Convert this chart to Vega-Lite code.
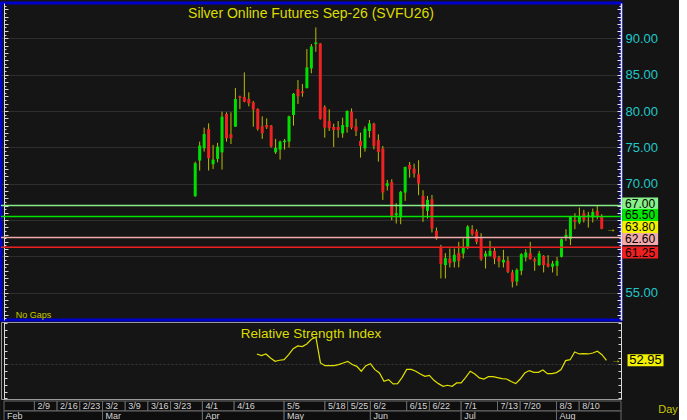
{
  "$schema": "https://vega.github.io/schema/vega-lite/v6.json",
  "background": "#141414",
  "padding": {"left": -2, "top": 1, "right": 0, "bottom": 0},
  "config": {
    "font": "Liberation Sans",
    "title": {"font": "Liberation Sans", "fontWeight": "normal", "color": "#dcdc00", "fontSize": 14, "anchor": "middle", "frame": "group"}
  },
  "bounds": "flush",
  "spacing": 2,
  "datasets": {
    "candles": [
      {"i": 1, "o": 68.28, "h": 73.04, "l": 68.2, "c": 72.81},
      {"i": 2, "o": 73.18, "h": 75.79, "l": 71.81, "c": 75.24},
      {"i": 3, "o": 74.87, "h": 77.71, "l": 74.42, "c": 76.84},
      {"i": 4, "o": 77.53, "h": 78.31, "l": 71.81, "c": 73.5},
      {"i": 5, "o": 72.68, "h": 75.33, "l": 72.03, "c": 73.32},
      {"i": 6, "o": 73.41, "h": 75.61, "l": 72.95, "c": 75.1},
      {"i": 7, "o": 74.32, "h": 79.91, "l": 71.94, "c": 79.22},
      {"i": 8, "o": 79.59, "h": 79.82, "l": 75.79, "c": 76.25},
      {"i": 9, "o": 76.8, "h": 79.82, "l": 75.47, "c": 76.25},
      {"i": 10, "o": 77.85, "h": 83.16, "l": 77.8, "c": 81.65},
      {"i": 11, "o": 82.02, "h": 82.11, "l": 80.27, "c": 81.83},
      {"i": 12, "o": 81.93, "h": 85.31, "l": 81.2, "c": 81.28},
      {"i": 13, "o": 81.65, "h": 82.57, "l": 80.64, "c": 81.06},
      {"i": 14, "o": 81.19, "h": 81.38, "l": 77.85, "c": 80.19},
      {"i": 15, "o": 80.28, "h": 80.37, "l": 77.3, "c": 77.53},
      {"i": 16, "o": 77.9, "h": 79.27, "l": 76.16, "c": 76.93},
      {"i": 17, "o": 78.08, "h": 78.99, "l": 77.53, "c": 77.76},
      {"i": 18, "o": 77.99, "h": 78.08, "l": 74.97, "c": 75.15},
      {"i": 19, "o": 74.32, "h": 76.16, "l": 74.09, "c": 74.92},
      {"i": 20, "o": 74.69, "h": 75.93, "l": 73.32, "c": 75.79},
      {"i": 21, "o": 75.7, "h": 76.16, "l": 74.69, "c": 75.93},
      {"i": 22, "o": 75.79, "h": 79.36, "l": 74.97, "c": 79.27},
      {"i": 23, "o": 79.45, "h": 82.47, "l": 77.99, "c": 82.38},
      {"i": 24, "o": 83.02, "h": 84.26, "l": 80.97, "c": 82.02},
      {"i": 25, "o": 82.7, "h": 83.71, "l": 81.97, "c": 82.47},
      {"i": 26, "o": 83.16, "h": 88.52, "l": 83.1, "c": 86.0},
      {"i": 27, "o": 85.86, "h": 89.21, "l": 85.18, "c": 88.89},
      {"i": 28, "o": 89.21, "h": 91.5, "l": 88.15, "c": 89.43},
      {"i": 29, "o": 89.3, "h": 89.34, "l": 78.81, "c": 78.9},
      {"i": 30, "o": 80.55, "h": 80.78, "l": 76.33, "c": 77.71},
      {"i": 31, "o": 78.62, "h": 80.23, "l": 77.25, "c": 77.62},
      {"i": 32, "o": 77.8, "h": 78.26, "l": 75.05, "c": 77.39},
      {"i": 33, "o": 77.8, "h": 78.62, "l": 76.33, "c": 77.39},
      {"i": 34, "o": 76.93, "h": 79.08, "l": 76.33, "c": 78.07},
      {"i": 35, "o": 77.8, "h": 80.09, "l": 77.02, "c": 80.0},
      {"i": 36, "o": 79.91, "h": 80.36, "l": 77.48, "c": 77.71},
      {"i": 37, "o": 77.89, "h": 78.94, "l": 76.56, "c": 77.25},
      {"i": 38, "o": 75.88, "h": 77.02, "l": 73.59, "c": 75.19},
      {"i": 39, "o": 74.87, "h": 77.89, "l": 74.41, "c": 77.57},
      {"i": 40, "o": 77.25, "h": 78.76, "l": 76.33, "c": 78.3},
      {"i": 41, "o": 78.26, "h": 78.39, "l": 74.73, "c": 75.19},
      {"i": 42, "o": 76.02, "h": 76.79, "l": 73.04, "c": 74.37},
      {"i": 43, "o": 74.83, "h": 75.19, "l": 67.77, "c": 68.78},
      {"i": 44, "o": 69.7, "h": 70.52, "l": 69.06, "c": 70.06},
      {"i": 45, "o": 70.25, "h": 70.61, "l": 64.98, "c": 65.58},
      {"i": 46, "o": 65.67, "h": 67.32, "l": 64.52, "c": 65.94},
      {"i": 47, "o": 65.35, "h": 69.01, "l": 64.43, "c": 68.87},
      {"i": 48, "o": 68.78, "h": 72.35, "l": 67.64, "c": 72.31},
      {"i": 49, "o": 72.58, "h": 72.99, "l": 70.84, "c": 71.99},
      {"i": 50, "o": 72.08, "h": 72.76, "l": 70.84, "c": 71.39},
      {"i": 51, "o": 71.3, "h": 73.22, "l": 68.41, "c": 70.02},
      {"i": 52, "o": 68.32, "h": 69.1, "l": 64.75, "c": 66.58},
      {"i": 53, "o": 66.26, "h": 68.32, "l": 65.21, "c": 67.77},
      {"i": 54, "o": 67.86, "h": 68.46, "l": 63.29, "c": 63.84},
      {"i": 55, "o": 63.51, "h": 63.97, "l": 62.28, "c": 62.46},
      {"i": 56, "o": 61.23, "h": 61.59, "l": 56.97, "c": 58.94},
      {"i": 57, "o": 58.8, "h": 60.45, "l": 56.97, "c": 59.76},
      {"i": 58, "o": 59.71, "h": 61.09, "l": 58.48, "c": 59.07},
      {"i": 59, "o": 59.26, "h": 61.09, "l": 58.48, "c": 60.22},
      {"i": 60, "o": 60.45, "h": 62.0, "l": 58.48, "c": 59.39},
      {"i": 61, "o": 60.4, "h": 62.46, "l": 59.71, "c": 61.23},
      {"i": 62, "o": 61.22, "h": 64.29, "l": 60.99, "c": 64.11},
      {"i": 63, "o": 63.74, "h": 64.29, "l": 62.83, "c": 63.05},
      {"i": 64, "o": 63.42, "h": 63.74, "l": 61.68, "c": 62.0},
      {"i": 65, "o": 62.6, "h": 63.19, "l": 59.39, "c": 59.62},
      {"i": 66, "o": 59.99, "h": 60.76, "l": 58.34, "c": 60.4},
      {"i": 67, "o": 60.08, "h": 62.14, "l": 59.99, "c": 60.76},
      {"i": 68, "o": 60.76, "h": 61.22, "l": 58.93, "c": 59.71},
      {"i": 69, "o": 59.85, "h": 60.08, "l": 58.48, "c": 59.3},
      {"i": 70, "o": 59.16, "h": 60.9, "l": 58.48, "c": 59.53},
      {"i": 71, "o": 59.39, "h": 59.99, "l": 57.7, "c": 57.88},
      {"i": 72, "o": 57.79, "h": 58.15, "l": 55.73, "c": 56.51},
      {"i": 73, "o": 56.55, "h": 58.34, "l": 55.96, "c": 58.15},
      {"i": 74, "o": 58.02, "h": 60.44, "l": 57.42, "c": 60.31},
      {"i": 75, "o": 59.85, "h": 60.99, "l": 59.3, "c": 60.54},
      {"i": 76, "o": 60.44, "h": 62.0, "l": 59.55, "c": 59.62},
      {"i": 77, "o": 59.62, "h": 59.85, "l": 58.02, "c": 59.3},
      {"i": 78, "o": 58.8, "h": 60.76, "l": 58.7, "c": 60.4},
      {"i": 79, "o": 60.08, "h": 60.17, "l": 57.79, "c": 58.8},
      {"i": 80, "o": 59.02, "h": 60.17, "l": 58.48, "c": 58.61},
      {"i": 81, "o": 58.57, "h": 59.39, "l": 57.79, "c": 59.02},
      {"i": 82, "o": 58.7, "h": 59.94, "l": 57.33, "c": 59.39},
      {"i": 83, "o": 59.94, "h": 62.46, "l": 59.85, "c": 62.37},
      {"i": 84, "o": 62.6, "h": 63.74, "l": 62.14, "c": 62.96},
      {"i": 85, "o": 62.37, "h": 65.57, "l": 61.54, "c": 65.48},
      {"i": 86, "o": 65.02, "h": 65.94, "l": 63.74, "c": 64.75},
      {"i": 87, "o": 64.66, "h": 66.72, "l": 64.43, "c": 65.48},
      {"i": 88, "o": 65.94, "h": 66.4, "l": 64.66, "c": 65.02},
      {"i": 89, "o": 65.48, "h": 66.12, "l": 63.97, "c": 65.66},
      {"i": 90, "o": 65.34, "h": 66.58, "l": 64.66, "c": 66.12},
      {"i": 91, "o": 66.26, "h": 66.95, "l": 65.11, "c": 65.57},
      {"i": 92, "o": 65.48, "h": 65.8, "l": 63.74, "c": 63.8}
    ],
    "rsi": [
      {"i": 15, "v": 57.6}, {"i": 16, "v": 56.4}, {"i": 17, "v": 57.6}, {"i": 18, "v": 54.7},
      {"i": 19, "v": 52.2}, {"i": 20, "v": 53.0}, {"i": 21, "v": 53.4}, {"i": 22, "v": 57.1},
      {"i": 23, "v": 61.5}, {"i": 24, "v": 63.5}, {"i": 25, "v": 63.0}, {"i": 26, "v": 65.0},
      {"i": 27, "v": 68.4}, {"i": 28, "v": 69.9}, {"i": 29, "v": 51.0}, {"i": 30, "v": 49.0},
      {"i": 31, "v": 49.0}, {"i": 32, "v": 49.0}, {"i": 33, "v": 49.8}, {"i": 34, "v": 51.0},
      {"i": 35, "v": 52.2}, {"i": 36, "v": 49.8}, {"i": 37, "v": 48.5}, {"i": 38, "v": 44.9},
      {"i": 39, "v": 49.0}, {"i": 40, "v": 50.5}, {"i": 41, "v": 46.1}, {"i": 42, "v": 43.6},
      {"i": 43, "v": 37.5}, {"i": 44, "v": 38.7}, {"i": 45, "v": 35.6}, {"i": 46, "v": 35.8},
      {"i": 47, "v": 40.4}, {"i": 48, "v": 46.3}, {"i": 49, "v": 46.3}, {"i": 50, "v": 44.9},
      {"i": 51, "v": 42.9}, {"i": 52, "v": 41.2}, {"i": 53, "v": 41.9}, {"i": 54, "v": 38.2},
      {"i": 55, "v": 35.8}, {"i": 56, "v": 33.8}, {"i": 57, "v": 34.6}, {"i": 58, "v": 33.8},
      {"i": 59, "v": 36.3}, {"i": 60, "v": 36.3}, {"i": 61, "v": 40.4}, {"i": 62, "v": 44.9},
      {"i": 63, "v": 42.9}, {"i": 64, "v": 40.0}, {"i": 65, "v": 39.2}, {"i": 66, "v": 40.9},
      {"i": 67, "v": 40.9}, {"i": 68, "v": 40.2}, {"i": 69, "v": 39.5}, {"i": 70, "v": 39.2},
      {"i": 71, "v": 37.3}, {"i": 72, "v": 35.8}, {"i": 73, "v": 39.2}, {"i": 74, "v": 43.6},
      {"i": 75, "v": 45.4}, {"i": 76, "v": 44.1}, {"i": 77, "v": 44.1}, {"i": 78, "v": 45.8},
      {"i": 79, "v": 43.1}, {"i": 80, "v": 43.1}, {"i": 81, "v": 43.9}, {"i": 82, "v": 46.1},
      {"i": 83, "v": 52.7}, {"i": 84, "v": 53.4}, {"i": 85, "v": 59.1}, {"i": 86, "v": 57.6},
      {"i": 87, "v": 57.8}, {"i": 88, "v": 57.6}, {"i": 89, "v": 58.3}, {"i": 90, "v": 59.6},
      {"i": 91, "v": 57.1}, {"i": 92, "v": 52.95}
    ],
    "levels": [
      {"p": 67.0, "lbl": "67.00"},
      {"p": 65.5, "lbl": "65.50"},
      {"p": 63.8, "lbl": "63.80"},
      {"p": 62.6, "lbl": "62.60"},
      {"p": 61.25, "lbl": "61.25"}
    ],
    "cells": [
      {"row": "w", "s": -40.7, "e": -34, "lbl": ""},
      {"row": "w", "s": -34, "e": -29, "lbl": "2/9"},
      {"row": "w", "s": -29, "e": -24, "lbl": "2/16"},
      {"row": "w", "s": -24, "e": -19, "lbl": "2/23"},
      {"row": "w", "s": -19, "e": -14, "lbl": "3/2"},
      {"row": "w", "s": -14, "e": -9, "lbl": "3/9"},
      {"row": "w", "s": -9, "e": -4, "lbl": "3/16"},
      {"row": "w", "s": -4, "e": 3, "lbl": "3/23"},
      {"row": "w", "s": 3, "e": 10, "lbl": "4/1"},
      {"row": "w", "s": 10, "e": 21, "lbl": "4/16"},
      {"row": "w", "s": 21, "e": 30, "lbl": "5/5"},
      {"row": "w", "s": 30, "e": 35, "lbl": "5/18"},
      {"row": "w", "s": 35, "e": 40, "lbl": "5/25"},
      {"row": "w", "s": 40, "e": 48, "lbl": "6/2"},
      {"row": "w", "s": 48, "e": 53, "lbl": "6/15"},
      {"row": "w", "s": 53, "e": 60, "lbl": "6/22"},
      {"row": "w", "s": 60, "e": 68, "lbl": "7/1"},
      {"row": "w", "s": 68, "e": 73, "lbl": "7/13"},
      {"row": "w", "s": 73, "e": 81, "lbl": "7/20"},
      {"row": "w", "s": 81, "e": 86, "lbl": "8/3"},
      {"row": "w", "s": 86, "e": 95.2, "lbl": "8/10"},
      {"row": "m", "s": -40.7, "e": -19, "lbl": "Feb"},
      {"row": "m", "s": -19, "e": 3, "lbl": "Mar"},
      {"row": "m", "s": 3, "e": 21, "lbl": "Apr"},
      {"row": "m", "s": 21, "e": 40, "lbl": "May"},
      {"row": "m", "s": 40, "e": 60, "lbl": "Jun"},
      {"row": "m", "s": 60, "e": 81, "lbl": "Jul"},
      {"row": "m", "s": 81, "e": 95.2, "lbl": "Aug"}
    ]
  },
  "vconcat": [
    {
      "width": 620,
      "height": 317,
      "view": {"fill": "#151515", "stroke": "#0000cc", "strokeWidth": 3},
      "title": {"text": "Silver Online Futures Sep-26 (SVFU26)", "offset": -17.5},
      "resolve": {"axis": {"y": "independent"}},
      "layer": [
        {
          "data": {"name": "candles"},
          "mark": {"type": "rule", "color": "#bcbc00", "strokeWidth": 1},
          "encoding": {
            "x": {
              "field": "i", "type": "quantitative", "title": null,
              "scale": {"domain": [-41.36, 95.2], "nice": false, "zero": false},
              "axis": {"values": [-34, -29, -24, -19, -14, -9, -4, 3, 10, 21, 30, 35, 40, 48, 53, 60, 68, 73, 81, 86], "grid": true, "gridColor": "#2e2e2e", "labels": false, "ticks": false, "domain": false}
            },
            "y": {
              "field": "l", "type": "quantitative", "title": null,
              "scale": {"domain": [51.25, 94.86], "nice": false, "zero": false},
              "axis": {"orient": "right", "values": [55, 60, 65, 70, 75, 80, 85, 90], "grid": true, "gridColor": "#2e2e2e", "ticks": false, "domain": false, "labelColor": "#20c8c8", "labelFontSize": 13, "labelPadding": 4, "labelExpr": "datum.value == 60 || datum.value == 65 ? '' : format(datum.value, '.2f')"}
            },
            "y2": {"field": "h"}
          }
        },
        {
          "data": {"name": "candles"},
          "mark": {"type": "bar", "width": 3},
          "encoding": {
            "x": {"field": "i", "type": "quantitative", "axis": null},
            "y": {
              "field": "o", "type": "quantitative", "title": null,
              "axis": {"orient": "left", "offset": -620, "values": [51.5, 52, 52.5, 53, 53.5, 54, 54.5, 55, 55.5, 56, 56.5, 57, 57.5, 58, 58.5, 59, 59.5, 60, 60.5, 61, 61.5, 62, 62.5, 63, 63.5, 64, 64.5, 65, 65.5, 66, 66.5, 67, 67.5, 68, 68.5, 69, 69.5, 70, 70.5, 71, 71.5, 72, 72.5, 73, 73.5, 74, 74.5, 75, 75.5, 76, 76.5, 77, 77.5, 78, 78.5, 79, 79.5, 80, 80.5, 81, 81.5, 82, 82.5, 83, 83.5, 84, 84.5, 85, 85.5, 86, 86.5, 87, 87.5, 88, 88.5, 89, 89.5, 90, 90.5, 91, 91.5, 92, 92.5, 93, 93.5, 94, 94.5], "labels": false, "grid": false, "ticks": true, "tickColor": "#e6e6e6", "tickSize": {"condition": {"test": "datum.value % 1 === 0", "value": 4}, "value": 2}, "domain": true, "domainColor": "#e6e6e6", "domainWidth": 1.5}
            },
            "y2": {"field": "c"},
            "color": {"condition": {"test": "datum.c >= datum.o", "value": "#00e000"}, "value": "#ee2222"}
          }
        },
        {
          "data": {"name": "levels"},
          "transform": [{"filter": "datum.lbl !== '63.80'"}],
          "mark": {"type": "rule", "strokeWidth": 1.5},
          "encoding": {
            "y": {
              "field": "p", "type": "quantitative", "title": null,
              "axis": {"orient": "right", "offset": -617, "values": [51.5, 52, 52.5, 53, 53.5, 54, 54.5, 55, 55.5, 56, 56.5, 57, 57.5, 58, 58.5, 59, 59.5, 60, 60.5, 61, 61.5, 62, 62.5, 63, 63.5, 64, 64.5, 65, 65.5, 66, 66.5, 67, 67.5, 68, 68.5, 69, 69.5, 70, 70.5, 71, 71.5, 72, 72.5, 73, 73.5, 74, 74.5, 75, 75.5, 76, 76.5, 77, 77.5, 78, 78.5, 79, 79.5, 80, 80.5, 81, 81.5, 82, 82.5, 83, 83.5, 84, 84.5, 85, 85.5, 86, 86.5, 87, 87.5, 88, 88.5, 89, 89.5, 90, 90.5, 91, 91.5, 92, 92.5, 93, 93.5, 94, 94.5], "labels": false, "grid": false, "ticks": true, "tickColor": "#d8d8d8", "tickSize": {"condition": {"test": "datum.value % 1 === 0", "value": 4}, "value": 2}, "domain": true, "domainColor": "#d8d8d8"}
            },
            "color": {
              "field": "lbl", "type": "nominal", "legend": null,
              "scale": {"domain": ["67.00", "65.50", "63.80", "62.60", "61.25"], "range": ["#88f088", "#00e400", "#f0f000", "#f2aaaa", "#ee2020"]}
            }
          }
        },
        {
          "data": {"name": "levels"},
          "mark": {"type": "point", "size": 144, "filled": true, "opacity": 1, "strokeWidth": 0},
          "encoding": {
            "x": {"datum": 100.6, "axis": null},
            "y": {"field": "p", "type": "quantitative", "axis": null},
            "shape": {
              "field": "lbl", "type": "nominal", "legend": null,
              "scale": {"domain": ["67.00", "65.50", "63.80", "62.60", "61.25"], "range": ["M-3,-1.333H3V0.667H-3Z", "M-3,-1.233H3V0.767H-3Z", "M-3,-1.3H3V0.7H-3Z", "M-3,-0.75H3V1.25H-3Z", "M-3,-0.133H3V1.867H-3Z"]}
            },
            "color": {"field": "lbl", "type": "nominal", "legend": null}
          }
        },
        {
          "data": {"name": "levels"},
          "mark": {"type": "text", "color": "#000000", "fontSize": 12, "align": "center", "baseline": "middle", "dy": {"expr": "datum.lbl === '61.25' ? 5.2 : datum.lbl === '62.60' ? 1.5 : datum.lbl === '63.80' ? -1.8 : datum.lbl === '65.50' ? -1.4 : -2"}},
          "encoding": {
            "x": {"datum": 100.6, "axis": null},
            "y": {"field": "p", "type": "quantitative", "axis": null},
            "text": {"field": "lbl"}
          }
        },
        {
          "data": {"values": [{}]},
          "mark": {"type": "text", "color": "#e0e000", "fontSize": 10, "align": "center", "baseline": "middle"},
          "encoding": {
            "x": {"datum": 94.1, "axis": null},
            "y": {"datum": 63.8, "axis": null},
            "text": {"value": "→"}
          }
        },
        {
          "data": {"values": [{}]},
          "mark": {"type": "text", "color": "#c8c800", "fontSize": 9, "align": "left", "baseline": "middle"},
          "encoding": {
            "x": {"datum": -39.2, "axis": null},
            "y": {"datum": 51.9, "axis": null},
            "text": {"value": "No Gaps"}
          }
        }
      ]
    },
    {
      "width": 620,
      "height": 77,
      "view": {"fill": "#151515", "stroke": "#9a9a9a", "strokeWidth": 1},
      "title": {"text": "Relative Strength Index", "offset": -18, "fontSize": 13.5},
      "resolve": {"axis": {"y": "independent"}},
      "layer": [
        {
          "data": {"name": "rsi"},
          "mark": {"type": "line", "color": "#e0e000", "strokeWidth": 1.2},
          "encoding": {
            "x": {
              "field": "i", "type": "quantitative", "title": null,
              "scale": {"domain": [-41.36, 95.2], "nice": false, "zero": false},
              "axis": {"values": [-34, -29, -24, -19, -14, -9, -4, 3, 10, 21, 30, 35, 40, 48, 53, 60, 68, 73, 81, 86], "grid": true, "gridColor": "#2e2e2e", "labels": false, "ticks": false, "domain": false}
            },
            "y": {
              "field": "v", "type": "quantitative", "title": null,
              "scale": {"domain": [24.5, 81.1], "nice": false, "zero": false},
              "axis": {"orient": "left", "offset": -620, "values": [25, 30, 35, 40, 45, 50, 55, 60, 65, 70, 75, 80], "labels": false, "grid": false, "ticks": true, "tickColor": "#d8d8d8", "tickSize": 3, "domain": true, "domainColor": "#d8d8d8"}
            }
          }
        },
        {
          "data": {"name": "rsi"},
          "transform": [{"filter": "datum.i === 92"}],
          "mark": {"type": "point", "shape": "M-3,-1H3V1H-3Z", "size": 144, "filled": true, "opacity": 1, "strokeWidth": 0, "color": "#f0f000"},
          "encoding": {
            "x": {"datum": 100.6, "axis": null},
            "y": {
              "field": "v", "type": "quantitative", "title": null,
              "axis": {"orient": "right", "offset": -617, "values": [25, 30, 35, 40, 45, 50, 55, 60, 65, 70, 75, 80], "labels": false, "grid": false, "ticks": true, "tickColor": "#d8d8d8", "tickSize": 3, "domain": true, "domainColor": "#d8d8d8"}
            }
          }
        },
        {
          "data": {"name": "rsi"},
          "transform": [{"filter": "datum.i === 92"}],
          "mark": {"type": "text", "color": "#000000", "fontSize": 13, "align": "center", "baseline": "middle"},
          "encoding": {
            "x": {"datum": 100.6, "axis": null},
            "y": {
              "field": "v", "type": "quantitative", "title": null,
              "axis": {"orient": "right", "values": [50], "labels": false, "ticks": false, "domain": false, "grid": true, "gridColor": "#3a3a3a", "gridDash": [2, 2]}
            },
            "text": {"field": "v", "format": ".2f"}
          }
        },
        {
          "data": {"name": "rsi"},
          "transform": [{"filter": "datum.i === 92"}],
          "mark": {"type": "text", "color": "#e0e000", "fontSize": 10, "align": "center", "baseline": "middle"},
          "encoding": {
            "x": {"datum": 94.1, "axis": null},
            "y": {"field": "v", "type": "quantitative", "axis": null},
            "text": {"value": "→"}
          }
        },
        {
          "data": {"values": [{}]},
          "mark": {"type": "text", "color": "#c8c800", "fontSize": 11, "align": "left", "baseline": "top", "dy": 5},
          "encoding": {
            "x": {"datum": 103.4, "axis": null},
            "y": {"datum": 24.5, "axis": null},
            "text": {"value": "Day"}
          }
        }
      ]
    },
    {
      "width": 620,
      "height": 20,
      "view": {"fill": "#0e0e0e", "stroke": null},
      "layer": [
        {
          "data": {"name": "cells"},
          "mark": {"type": "rect", "fill": "#0e0e0e", "stroke": "#6a6a6a", "strokeWidth": 1},
          "encoding": {
            "x": {"field": "s", "type": "quantitative", "axis": null, "scale": {"domain": [-41.36, 95.2], "nice": false, "zero": false}},
            "x2": {"field": "e"},
            "y": {"field": "row", "type": "nominal", "axis": null, "scale": {"domain": ["w", "m"], "paddingInner": 0, "paddingOuter": 0}}
          }
        },
        {
          "data": {"name": "cells"},
          "mark": {"type": "text", "align": "left", "baseline": "middle", "dx": 3, "fontSize": 9, "color": "#d4d4d4"},
          "encoding": {
            "x": {"field": "s", "type": "quantitative", "axis": null},
            "y": {"field": "row", "type": "nominal", "axis": null},
            "text": {"field": "lbl"}
          }
        }
      ]
    }
  ]
}
